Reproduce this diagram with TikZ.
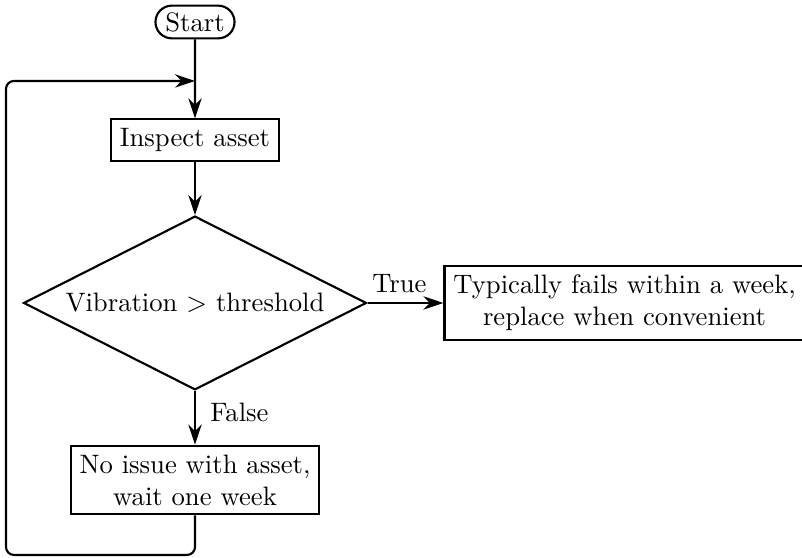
\documentclass[tikz,border=0pt]{standalone}
\usepackage{amsmath,amssymb}
\usepackage{tikz}
\usetikzlibrary{arrows.meta,shapes.geometric,shapes.misc}

\begin{document}
\begin{tikzpicture}[x=1cm,y=1cm,
  flow/.style={line width=0.8pt, -{Stealth[length=7.5pt,width=5pt]}},
  procbox/.style={draw, line width=0.8pt, align=center},
  termbox/.style={draw, line width=0.8pt, rounded rectangle, inner sep=2.5pt},
  decbox/.style={draw, line width=0.8pt, diamond, aspect=2, inner sep=0pt,
    minimum width=4.52cm, minimum height=2.29cm}]
\useasboundingbox (0,0) rectangle (10.57,7.354);

\node[termbox] (start) at (2.570,7.064) {Start};
\node[procbox] (inspect) at (2.570,5.509) {Inspect asset};
\node[decbox] (vib) at (2.570,3.361) {Vibration $>$ threshold};
\node[procbox] (replace) at (8.231,3.361) {Typically fails within a week,\\replace when convenient};
\node[procbox] (noissue) at (2.570,1.028) {No issue with asset,\\wait one week};
\coordinate (loopin) at (2.570,6.287);
\coordinate (loopcorner) at (0.079,0.040);

\draw[flow] (start) -- (inspect);
\draw[flow] (inspect) -- (vib);
\draw[flow] (vib) -- node[above, pos=0.42] {True} (replace);
\draw[flow] (vib) -- node[right=2pt, pos=0.4] {False} (noissue);
\draw[flow, rounded corners=3pt] (noissue.south) |- (loopcorner) |- (loopin);
\end{tikzpicture}
\end{document}
